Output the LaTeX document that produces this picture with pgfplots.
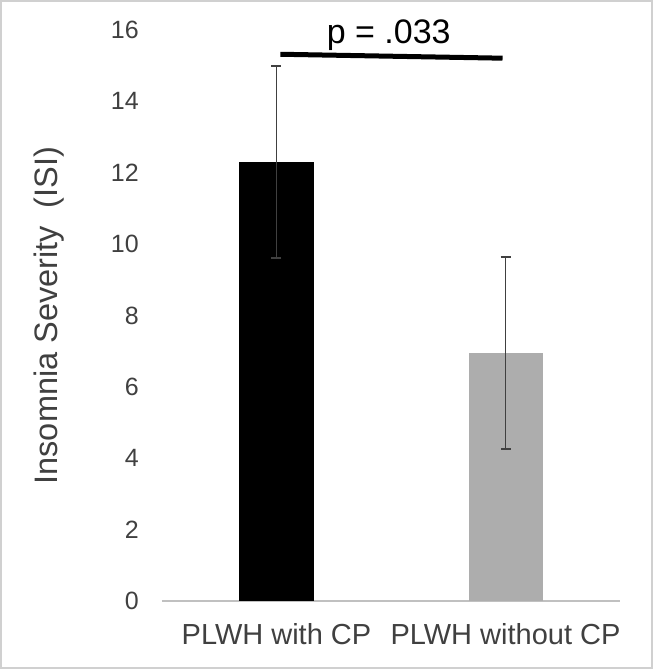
\documentclass[border=0pt]{standalone}
\usepackage{fontspec}
\setmainfont{Liberation Sans}
\usepackage{pgfplots}
\pgfplotsset{compat=1.18}
\definecolor{txt}{HTML}{404040}
\definecolor{bargray}{HTML}{ADADAD}
\definecolor{axgray}{HTML}{C0C0C0}
\definecolor{framegray}{HTML}{D0D0D0}
\definecolor{errcol}{HTML}{404040}

\begin{document}
\begin{tikzpicture}
\begin{axis}[
    at={(0pt,0pt)}, anchor=south west,
    scale only axis,
    width=458pt, height=571pt,
    xmin=-0.5, xmax=1.5,
    ymin=0, ymax=16,
    ybar, bar width=74pt, bar shift=0pt,
    axis x line=bottom, axis y line=left,
    x axis line style={-, draw=axgray, line width=1.5pt},
    y axis line style={draw=none},
    major tick length=0pt,
    xtick={0,1}, xticklabels={PLWH with CP, PLWH without CP},
    ytick={0,2,...,16},
    /pgf/number format/assume math mode=true,
    xticklabel style={font=\fontsize{29}{31}\selectfont, text=txt, inner sep=0pt, anchor=north, yshift=-22pt},
    yticklabel style={font=\fontsize{25}{27}\selectfont, text=txt, inner sep=0pt, anchor=east, xshift=-23pt},
    ylabel={Insomnia Severity\ \ (ISI)},
    ylabel style={font=\fontsize{32.5}{34}\selectfont, text=txt, at={(axis description cs:0,0.5)}, yshift=113pt, anchor=center},
    clip=false,
    error bars/y dir=both, error bars/y explicit,
    error bars/error bar style={line width=1.8pt, color=errcol},
    error bars/error mark options={rotate=90, mark size=5pt, line width=1.8pt, color=errcol},
]
\addplot[fill=black, draw=none] coordinates {(0,12.3) +- (0,2.7)};
\addplot[fill=bargray, draw=none] coordinates {(1,6.95) +- (0,2.68)};
\addplot[sharp plot, line width=5pt, black, no marks] coordinates {(0.017,15.32) (0.987,15.21)};
\node[font=\fontsize{34}{36}\selectfont, text=black, anchor=base] at (axis cs:0.49,15.63) {p = .033};
\end{axis}
\draw[framegray, line width=2pt] (-161pt,-67pt) rectangle (490pt,600pt);
\end{tikzpicture}
\end{document}
